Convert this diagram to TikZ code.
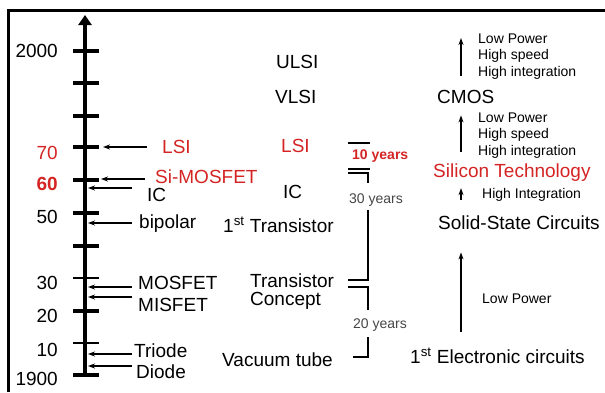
\documentclass[tikz,border=0pt]{standalone}
\usepackage{fontspec}
\setmainfont{Liberation Sans}
\usetikzlibrary{arrows.meta,calc}
\definecolor{erared}{RGB}{212,36,36}
\definecolor{spangray}{RGB}{70,70,70}

\begin{document}
\begin{tikzpicture}[x=1pt,y=-1pt,>={Stealth[length=7pt,width=5pt]},
  big/.style={inner sep=0pt,anchor=base west,font=\fontsize{19}{21}\selectfont},
  note/.style={inner sep=0pt,anchor=base west,align=left,font=\fontsize{14}{16.5}\selectfont},
  span/.style={inner sep=0pt,anchor=base west,font=\fontsize{14}{16}\selectfont,spangray},
  pointer/.style={->,line width=1.6pt},
  boldpointer/.style={->,line width=2.6pt},
  uparrow/.style={->,line width=1.4pt},
  bracket/.style={line width=2.4pt}]
  \useasboundingbox (0,0) rectangle (605,392);
  % frame
  \draw[line width=2.5pt] (8.5,392) -- (8.5,10.5) -- (605,10.5);

  % time axis
  \coordinate (axbot) at (85,377);
  \coordinate (axtop) at (85,15);
  \draw[line width=4pt,-{Triangle[length=10pt,width=13pt]}] (axbot) -- (axtop);
  \foreach \y in {51,83,116,147,180,213,246,311,375}
    \draw[line width=4pt] (73,\y) -- (99,\y);
  \foreach \y in {278,343}
    \draw[line width=2.6pt] (73,\y) -- (99,\y);

  % years
  \node[big,anchor=base east] (y2000) at (58,57) {2000};
  \node[big,anchor=base east,erared] (y70) at (58,159) {70};
  \node[big,anchor=base east,erared] (y60) at (58,190) {\bfseries 60};
  \node[big,anchor=base east] (y50) at (58,223) {50};
  \node[big,anchor=base east] (y30) at (58,289) {30};
  \node[big,anchor=base east] (y20) at (58,322) {20};
  \node[big,anchor=base east] (y10) at (58,356) {10};
  \node[big,anchor=base east] (y1900) at (58,385) {1900};

  % devices pointing at the axis
  \coordinate (headlsi) at (103,0);
  \coordinate (headsi) at (101,0);
  \coordinate (headax) at (88,0);
  \node[big,erared] (lsi) at (162,153) {LSI};
  \node[big,erared] (simos) at (155,183) {Si-MOSFET};
  \node[big] (ic) at (147,201) {IC};
  \node[big] (bipolar) at (139,228) {bipolar};
  \node[big] (mosfet) at (138,289) {MOSFET};
  \node[big] (misfet) at (138,311) {MISFET};
  \node[big] (triode) at (134,357) {Triode};
  \node[big] (diode) at (136,378) {Diode};
  \draw[pointer] ($(lsi.base west)+(-15,-6)$) -- ($(lsi.base west -| headlsi)+(0,-6)$);
  \draw[boldpointer] ($(simos.base west)+(-10,-4)$) -- ($(simos.base west -| headsi)+(0,-4)$);
  \draw[pointer] ($(ic.base west)+(-15,-13)$) -- ($(ic.base west -| headax)+(0,-13)$);
  \draw[pointer] ($(bipolar.base west)+(-7,-5)$) -- ($(bipolar.base west -| headax)+(0,-5)$);
  \draw[boldpointer] ($(mosfet.base west)+(-6,-2)$) -- ($(mosfet.base west -| headax)+(0,-2)$);
  \draw[boldpointer] ($(misfet.base west)+(-6,-14)$) -- ($(misfet.base west -| headax)+(0,-14)$);
  \draw[boldpointer] ($(triode.base west)+(-2,-3)$) -- ($(triode.base west -| headax)+(0,-3)$);
  \draw[boldpointer] ($(diode.base west)+(-4,-12)$) -- ($(diode.base west -| headax)+(0,-12)$);

  % milestones
  \node[big] (ulsi) at (276,68) {ULSI};
  \node[big] (vlsi) at (275,103) {VLSI};
  \node[big,erared] (lsimid) at (281,152) {LSI};
  \node[big] (icmid) at (283,198) {IC};
  \node[big] (firsttr) at (223,232) {1\textsuperscript{st} Transistor};
  \node[big] (trconc) at (250,287) {Transistor};
  \node[big] (concept) at (250,305) {Concept};
  \node[big] (vacuum) at (222,366) {Vacuum tube};

  % spans
  \draw[bracket] (348,143) -- (370,143);
  \node[span,erared] (ten) at (352,159) {\bfseries 10 years};
  \draw[bracket] (348,169) -- (370,169);
  \draw[bracket] (348,173) -- (368,173) -- (368,183);
  \node[span] (thirty) at (349,203) {30 years};
  \draw[bracket] (368,210) -- (368,280) -- (348,280);
  \draw[bracket] (348,287) -- (368,287) -- (368,310);
  \node[span] (twenty) at (353,328) {20 years};
  \draw[bracket] (368,337) -- (368,357) -- (353,357);

  % technology
  \coordinate (rail) at (461,0);
  \coordinate (railtop) at (461,38);
  \node[note] (gainup) at (478,76) {Low Power\\High speed\\High integration};
  \node[big] (cmos) at (437,103) {CMOS};
  \node[note] (gainmid) at (478,155) {Low Power\\High speed\\High integration};
  \node[big,erared] (sitech) at (433,177) {Silicon Technology};
  \node[note] (gainint) at (482,198) {High Integration};
  \node[big] (solid) at (438,229) {Solid-State Circuits};
  \node[note] (gainlow) at (482,303) {Low Power};
  \node[big] (elec) at (410,363) {1\textsuperscript{st} Electronic circuits};
  \draw[uparrow,shorten <=14pt] (cmos.north -| rail) -- (railtop);
  \draw[uparrow,shorten <=11pt,shorten >=12pt] (sitech.north -| rail) -- (cmos.south -| rail);
  \draw[uparrow,shorten <=15pt,shorten >=7pt] (solid.north -| rail) -- (sitech.south -| rail);
  \draw[uparrow,shorten <=16pt,shorten >=23pt] (elec.north -| rail) -- (solid.south -| rail);
\end{tikzpicture}
\end{document}
